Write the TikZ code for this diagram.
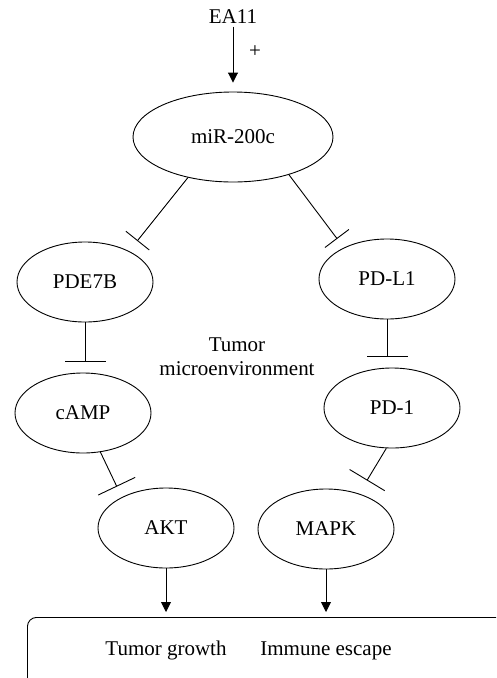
\documentclass[tikz,border=0pt]{standalone}
\usepackage{fontspec}
\setmainfont{Liberation Serif}
\usetikzlibrary{shapes.geometric,arrows.meta}
\begin{document}
\begin{tikzpicture}[x=1pt,y=-1pt,
  every node/.style={font=\fontsize{21}{24}\selectfont},
  oval/.style={draw,ellipse,line width=0.9pt,inner sep=0pt,minimum width=136pt,minimum height=80pt},
  act/.style={line width=0.9pt,-{Triangle[width=10pt,length=10pt]}},
  inh/.style={line width=0.9pt,-{Bar[width=#1]}},
  inh/.default=41pt]
\useasboundingbox (0,0) rectangle (496,678);
\clip (0,0) rectangle (496,678);
\node[anchor=base] (ea) at (233,23) {EA11};
\node[oval,minimum width=200pt,minimum height=90pt] (mir) at (233,137) {miR-200c};
\node (plus) at (255,52) {+};
\node[oval] (pde) at (85,282) {PDE7B};
\node[oval] (pdl1) at (387,279) {PD-L1};
\node[oval] (camp) at (83,413) {cAMP};
\node[oval] (pd1) at (392,408) {PD-1};
\node[oval] (akt) at (166,528) {AKT};
\node[oval] (mapk) at (326,529) {MAPK};
\node[align=center] (tme) at (237,357) {Tumor\\microenvironment};
\node[draw,line width=0.9pt,rounded corners=9pt,minimum width=560pt,minimum height=120pt,anchor=north west] (box) at (27,617) {};
\node[anchor=base] (tg) at (166,655) {Tumor growth};
\node[anchor=base] (ie) at (326,655) {Immune escape};
\draw[act,shorten >=9pt] (ea.south) -- (mir.north);
\draw[inh=30pt,shorten >=13pt] (mir.222) -- (pde.35);
\draw[inh=30pt,shorten >=11pt] (mir.-34) -- (pdl1.144);
\draw[inh,shorten >=11pt] (pde.south) -- (pde.south |- camp.north);
\draw[inh,shorten >=11pt] (pdl1.south) -- (pdl1.south |- pd1.north);
\draw[inh,shorten >=11.6pt] (camp.-66) -- (akt.145);
\draw[inh,shorten >=15.3pt] (pd1.-98) -- (mapk.47);
\draw[act,shorten >=5pt] (akt.south) -- (akt.south |- box.north);
\draw[act,shorten >=5pt] (mapk.south) -- (mapk.south |- box.north);
\end{tikzpicture}
\end{document}
